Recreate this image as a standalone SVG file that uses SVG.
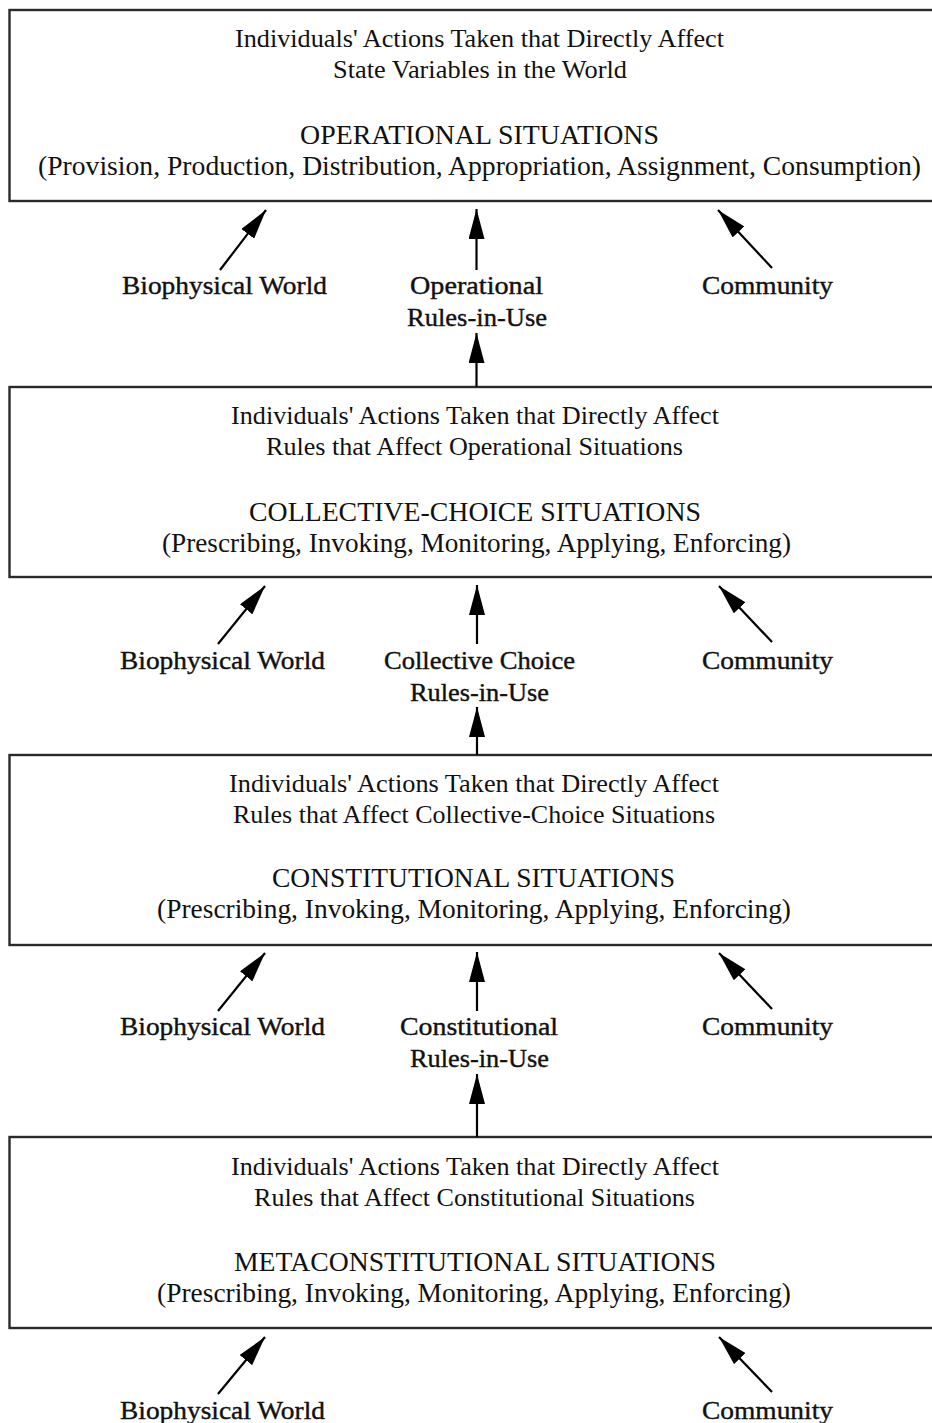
<svg xmlns="http://www.w3.org/2000/svg" width="932" height="1423" viewBox="0 0 932 1423">
  <style>
    .box { fill: #ffffff; stroke: #2a2a2a; stroke-width: 2.4; }
    .t { font-family: "Liberation Serif", "Times New Roman", serif; fill: #111; text-anchor: middle; }
    .s { font-size: 24.5px; }
    .h { font-size: 26.5px; }
    .lbl { font-family: "Liberation Serif", "Times New Roman", serif; font-size: 26px; fill: #111; stroke: #111; stroke-width: 0.4; text-anchor: middle; }
    .arr { stroke: #000; stroke-width: 2.2; fill: none; marker-end: url(#ah); }
  </style>
  <defs>
    <marker id="ah" markerWidth="30" markerHeight="16" refX="30" refY="8" orient="auto" markerUnits="userSpaceOnUse">
      <path d="M0,0 L30,8 L0,16 z" fill="#000"/>
    </marker>
  </defs>
  <rect x="0" y="0" width="932" height="1423" fill="#ffffff"/>

  <!-- Operational level -->
  <g id="operational">
    <rect class="box" x="9.5" y="10" width="930" height="191"/>
    <text class="t s" x="479.5" y="47" textLength="489" lengthAdjust="spacingAndGlyphs">Individuals' Actions Taken that Directly Affect</text>
    <text class="t s" x="480" y="78" textLength="294" lengthAdjust="spacingAndGlyphs">State Variables in the World</text>
    <text class="t h" x="479.5" y="144" textLength="359" lengthAdjust="spacingAndGlyphs">OPERATIONAL SITUATIONS</text>
    <text class="t h" x="479.5" y="175" textLength="883" lengthAdjust="spacingAndGlyphs">(Provision, Production, Distribution, Appropriation, Assignment, Consumption)</text>
  </g>

  <!-- Collective-choice level -->
  <g id="collective-choice">
    <rect class="box" x="9.5" y="387" width="930" height="190"/>
    <text class="t s" x="475" y="424" textLength="488" lengthAdjust="spacingAndGlyphs">Individuals' Actions Taken that Directly Affect</text>
    <text class="t s" x="474.5" y="455" textLength="417" lengthAdjust="spacingAndGlyphs">Rules that Affect Operational Situations</text>
    <text class="t h" x="475" y="521" textLength="452" lengthAdjust="spacingAndGlyphs">COLLECTIVE-CHOICE SITUATIONS</text>
    <text class="t h" x="476.5" y="552" textLength="629" lengthAdjust="spacingAndGlyphs">(Prescribing, Invoking, Monitoring, Applying, Enforcing)</text>
  </g>

  <!-- Constitutional level -->
  <g id="constitutional">
    <rect class="box" x="9.5" y="755" width="930" height="190"/>
    <text class="t s" x="474" y="792" textLength="490" lengthAdjust="spacingAndGlyphs">Individuals' Actions Taken that Directly Affect</text>
    <text class="t s" x="474" y="823" textLength="482" lengthAdjust="spacingAndGlyphs">Rules that Affect Collective-Choice Situations</text>
    <text class="t h" x="473.5" y="887" textLength="403" lengthAdjust="spacingAndGlyphs">CONSTITUTIONAL SITUATIONS</text>
    <text class="t h" x="474" y="918" textLength="634" lengthAdjust="spacingAndGlyphs">(Prescribing, Invoking, Monitoring, Applying, Enforcing)</text>
  </g>

  <!-- Metaconstitutional level -->
  <g id="metaconstitutional">
    <rect class="box" x="9.5" y="1137" width="930" height="191"/>
    <text class="t s" x="475" y="1175" textLength="488" lengthAdjust="spacingAndGlyphs">Individuals' Actions Taken that Directly Affect</text>
    <text class="t s" x="474.5" y="1206" textLength="441" lengthAdjust="spacingAndGlyphs">Rules that Affect Constitutional Situations</text>
    <text class="t h" x="475" y="1271" textLength="482" lengthAdjust="spacingAndGlyphs">METACONSTITUTIONAL SITUATIONS</text>
    <text class="t h" x="474" y="1302" textLength="634" lengthAdjust="spacingAndGlyphs">(Prescribing, Invoking, Monitoring, Applying, Enforcing)</text>
  </g>

  <!-- Influence labels -->
  <g id="labels-1">
    <text class="lbl" x="224.5" y="294" textLength="205" lengthAdjust="spacingAndGlyphs">Biophysical World</text>
    <text class="lbl" x="476.5" y="294" textLength="133" lengthAdjust="spacingAndGlyphs">Operational</text>
    <text class="lbl" x="477" y="326" textLength="140" lengthAdjust="spacingAndGlyphs">Rules-in-Use</text>
    <text class="lbl" x="767.5" y="294" textLength="131" lengthAdjust="spacingAndGlyphs">Community</text>
  </g>
  <g id="labels-2">
    <text class="lbl" x="222.5" y="669" textLength="205" lengthAdjust="spacingAndGlyphs">Biophysical World</text>
    <text class="lbl" x="479.5" y="669" textLength="191" lengthAdjust="spacingAndGlyphs">Collective Choice</text>
    <text class="lbl" x="479.5" y="701" textLength="139" lengthAdjust="spacingAndGlyphs">Rules-in-Use</text>
    <text class="lbl" x="767.5" y="669" textLength="131" lengthAdjust="spacingAndGlyphs">Community</text>
  </g>
  <g id="labels-3">
    <text class="lbl" x="222.5" y="1035" textLength="205" lengthAdjust="spacingAndGlyphs">Biophysical World</text>
    <text class="lbl" x="479" y="1035" textLength="158" lengthAdjust="spacingAndGlyphs">Constitutional</text>
    <text class="lbl" x="479.5" y="1067" textLength="139" lengthAdjust="spacingAndGlyphs">Rules-in-Use</text>
    <text class="lbl" x="767.5" y="1035" textLength="131" lengthAdjust="spacingAndGlyphs">Community</text>
  </g>
  <g id="labels-4">
    <text class="lbl" x="222.5" y="1419" textLength="205" lengthAdjust="spacingAndGlyphs">Biophysical World</text>
    <text class="lbl" x="767.5" y="1419" textLength="131" lengthAdjust="spacingAndGlyphs">Community</text>
  </g>

  <!-- Connectors -->
  <g id="connectors">
    <!-- into operational -->
    <line class="arr" x1="220" y1="270" x2="266" y2="210"/>
    <line class="arr" x1="476.5" y1="270" x2="476.5" y2="209"/>
    <line class="arr" x1="772" y1="268" x2="718" y2="210"/>
    <line class="arr" x1="476.5" y1="387" x2="476.5" y2="333"/>
    <!-- into collective-choice -->
    <line class="arr" x1="218" y1="644" x2="265" y2="586"/>
    <line class="arr" x1="477" y1="644" x2="477" y2="585"/>
    <line class="arr" x1="772" y1="642" x2="719" y2="586"/>
    <line class="arr" x1="477" y1="755" x2="477" y2="707"/>
    <!-- into constitutional -->
    <line class="arr" x1="218" y1="1011" x2="265" y2="953"/>
    <line class="arr" x1="477" y1="1011" x2="477" y2="952"/>
    <line class="arr" x1="772" y1="1009" x2="719" y2="953"/>
    <line class="arr" x1="477" y1="1137" x2="477" y2="1074"/>
    <!-- into metaconstitutional -->
    <line class="arr" x1="218" y1="1394" x2="265" y2="1337"/>
    <line class="arr" x1="772" y1="1392" x2="719" y2="1337"/>
  </g>
</svg>
